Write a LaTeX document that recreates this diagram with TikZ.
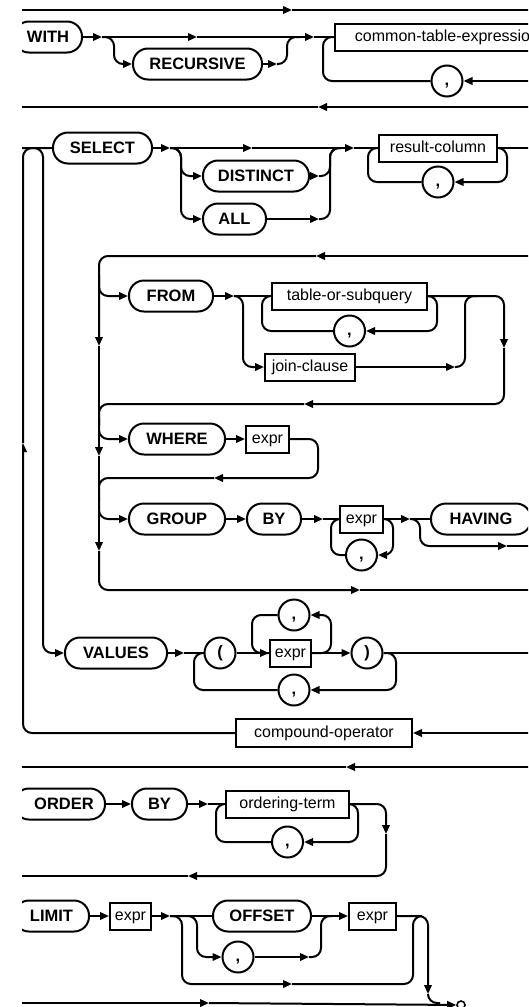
\documentclass[tikz,border=0pt]{standalone}
\usepackage{fontspec}
\setmainfont{Liberation Sans}
\usetikzlibrary{arrows.meta}
\tikzset{
  ln/.style={line width=2pt, rounded corners=9pt},
  rc/.style={rounded corners=9pt},
  ar/.style={line width=2pt, -{Triangle[length=9pt,width=7.5pt]}},
  term/.style={draw, line width=2pt, rounded corners=15pt, minimum height=31pt, inner sep=0pt, font=\fontsize{16.5}{18}\selectfont\bfseries},
  nterm/.style={draw, line width=2pt, minimum height=27pt, inner sep=0pt, text height=12pt, text depth=2.7pt, font=\fontsize{16}{18}\selectfont},
  punct/.style={draw, circle, line width=2pt, minimum size=31pt, inner sep=0pt, text height=12pt, text depth=3.5pt, font=\fontsize{16.5}{18}\selectfont\bfseries},
  endc/.style={draw, circle, line width=1.6pt, minimum size=8pt, inner sep=0pt}
}
\begin{document}
\begin{tikzpicture}[x=1pt,y=-1pt]
\useasboundingbox (0,0) rectangle (528,1007);
\clip (22,0) rectangle (528,1007);

% ---------------- nodes ----------------
\node[term, minimum width=68pt] (with) at (48,37) {WITH};
\node[term, minimum width=129pt] (recursive) at (197.5,64) {RECURSIVE};
\node[nterm, minimum width=224pt] (cte) at (447,37) {common-table-expression};
\node[punct] (c1) at (447,81) {,};

\node[term, minimum width=99pt] (select) at (102.5,148) {SELECT};
\node[term, minimum width=106pt] (distinct) at (256,176) {DISTINCT};
\node[term, minimum width=63pt] (all) at (234.5,219) {ALL};
\node[nterm, minimum width=118pt] (rescol) at (438,148) {result-column};
\node[punct] (c2) at (438,182) {,};

\node[term, minimum width=84pt] (from) at (171,296) {FROM};
\node[nterm, minimum width=155pt] (tos) at (349.5,296) {table-or-subquery};
\node[punct] (c3) at (349.5,331) {,};
\node[nterm, minimum width=90pt] (join) at (310,367) {join-clause};

\node[term, minimum width=96pt] (where) at (177,439) {WHERE};
\node[nterm, minimum width=43pt] (wexpr) at (267.5,439) {expr};

\node[term, minimum width=96pt] (group) at (177,519) {GROUP};
\node[term, minimum width=54pt] (by1) at (274,519) {BY};
\node[nterm, minimum width=43pt] (gexpr) at (361.5,519) {expr};
\node[punct] (c4) at (361.5,555) {,};
\node[term, minimum width=100pt] (having) at (481,519) {HAVING};

\node[term, minimum width=102pt] (values) at (116,653) {VALUES};
\node[punct] (lp) at (220,653) {(};
\node[nterm, minimum width=41pt] (vexpr) at (290.5,653) {expr};
\node[punct] (c5) at (294,615) {,};
\node[punct] (rp) at (367,653) {)};
\node[punct] (c6) at (294,690) {,};

\node[nterm, minimum width=176pt, minimum height=28pt] (compound) at (324,733) {compound-operator};

\node[term, minimum width=91pt] (order) at (59.5,804) {\hspace*{9pt}ORDER};
\node[term, minimum width=55pt] (by2) at (159.5,804) {BY};
\node[nterm, minimum width=123pt] (ot) at (287.5,804) {ordering-term};
\node[punct] (c7) at (287.5,842) {,};

\node[term, minimum width=75pt] (limit) at (51.5,916) {LIMIT};
\node[nterm, minimum width=41pt] (lexpr1) at (130.5,916) {expr};
\node[term, minimum width=98pt] (offset) at (262,916) {OFFSET};
\node[punct] (c8) at (238,957) {,};
\node[nterm, minimum width=47pt] (lexpr2) at (372.5,916) {expr};
\node[endc] (end) at (461,1005) {};

% ---------------- top line ----------------
\coordinate (a0) at (10,10); \coordinate (a1) at (292,10); \coordinate (a2) at (540,10);
\draw[ar] (a0) -- (a1); \draw[ln] (a1) -- (a2);

% ---------------- WITH ----------------
\coordinate (w1) at (102,37);
\coordinate (w2) at (197,37);
\coordinate (w4) at (277,64);
\coordinate (w5) at (314,37);
\coordinate (w6) at (540,81);
\draw[ar] (with) -- (w1);
\draw[ar] (w1) -- (w2);
\draw[ar] (w2) -- (w5);
\draw[ar] (w1) [rc] -- (114,37) -- (114,64) -- (recursive) [sharp corners];
\draw[ar] (recursive) -- (w4);
\draw[ln] (w4) -- (287,64) -- (287,37) -- (300,37);
\draw[ln] (w5) -- (cte);
\draw[ln] (c1) -- (323,81) -- (323,37) -- (cte);
\draw[ar] (w6) -- (c1);

\coordinate (b0) at (540,107); \coordinate (b1) at (318,107); \coordinate (b2) at (10,107);
\draw[ar] (b0) -- (b1); \draw[ln] (b1) -- (b2);

% ---------------- SELECT ----------------
\coordinate (s0) at (10,148);
\coordinate (s1) at (170,148);
\coordinate (s2) at (252,148);
\coordinate (s3) at (341,148);
\coordinate (s4) at (319,176);
\coordinate (s5) at (319,219);
\coordinate (s6) at (354,148);
\coordinate (s7) at (540,148);
\draw[ln] (s0) -- (select);
\draw[ar] (select) -- (s1);
\draw[ar] (s1) -- (s2);
\draw[ln] (s2) -- (s3);
\draw[ar] (s1) [rc] -- (181,148) -- (181,176) -- (distinct) [sharp corners];
\draw[ar] (s1) [rc] -- (181,148) -- (181,219) -- (all) [sharp corners];
\draw[ar] (distinct) -- (s4);
\draw[ar] (all) -- (s5);
\draw[ln] (s4) -- (330,176) -- (330,148) -- (s3);
\draw[ln] (s5) -- (330,219) -- (330,148) -- (s3);
\draw[ar] (s3) -- (s6);
\draw[ln] (s6) -- (rescol);
\draw[ln] (c2) -- (368,182) -- (368,148) -- (rescol);
\draw[ln] (rescol) -- (s7);
\draw[ar] (rescol.east) [rc] -- (507,148) -- (507,182) -- (c2) [sharp corners];

% compound loop and VALUES branch
\coordinate (k0) at (23,443);
\coordinate (k1) at (540,733);
\draw[ar] (k1) -- (compound);
\draw[ar] (compound) [rc] -- (23,733) -- (k0) [sharp corners];
\draw[ln] (k0) -- (23,148) -- (select);
\draw[ar] (s0) [rc] -- (43,148) -- (43,653) -- (values) [sharp corners];

% ---------------- FROM / WHERE / GROUP ----------------
\coordinate (f0) at (540,256); \coordinate (f1) at (316,256);
\coordinate (v1) at (99,346); \coordinate (v2) at (99,456);
\coordinate (v3) at (99,551); \coordinate (v4) at (360,590);
\coordinate (v5) at (540,590);
\draw[ar] (f0) -- (f1);
\draw[ar] (f1) [rc] -- (99,256) -- (v1) [sharp corners];
\draw[ar] (v1) -- (v2);
\draw[ar] (v2) -- (v3);
\draw[ar] (v3) [rc] -- (99,590) -- (v4) [sharp corners];
\draw[ln] (v4) -- (v5);

\coordinate (fb) at (99,275);
\coordinate (fj) at (234,296);
\coordinate (jx) at (455,367);
\coordinate (r1) at (504,348);
\coordinate (r2) at (304,404);
\draw[ar] (fb) [rc] -- (99,296) -- (from) [sharp corners];
\draw[ar] (from) -- (fj);
\draw[ln] (fj) -- (tos);
\draw[ar] (fj) [rc] -- (243,296) -- (243,367) -- (join) [sharp corners];
\draw[ln] (c3) -- (262,331) -- (262,296) -- (tos);
\draw[ar] (tos.east) [rc] -- (437,296) -- (437,331) -- (c3) [sharp corners];
\draw[ar] (join) -- (jx);
\draw[ln] (jx) -- (465,367) -- (465,296) -- (478,296);
\draw[ar] (tos.east) [rc] -- (504,296) -- (r1) [sharp corners];
\draw[ar] (r1) [rc] -- (504,404) -- (r2) [sharp corners];
\draw[ln] (r2) -- (99,404) -- (99,425);

\coordinate (wb) at (99,418);
\coordinate (wx) at (214,478);
\draw[ar] (wb) [rc] -- (99,439) -- (where) [sharp corners];
\draw[ar] (where) -- (wexpr);
\draw[ar] (wexpr) [rc] -- (318,439) -- (318,478) -- (wx) [sharp corners];
\draw[ln] (wx) -- (99,478) -- (99,500);

\coordinate (gb) at (99,498);
\coordinate (gj) at (323,519);
\coordinate (hj) at (410,519);
\coordinate (hx) at (507,546);
\coordinate (hy) at (540,546);
\draw[ar] (gb) [rc] -- (99,519) -- (group) [sharp corners];
\draw[ar] (group) -- (by1);
\draw[ar] (by1) -- (gj);
\draw[ln] (gj) -- (gexpr);
\draw[ln] (c4) -- (331,555) -- (331,519) -- (gexpr);
\draw[ar] (gexpr.east) [rc] -- (393,519) -- (393,555) -- (c4) [sharp corners];
\draw[ar] (gexpr) -- (hj);
\draw[ln] (hj) -- (having);
\draw[ar] (hj) [rc] -- (420,519) -- (420,546) -- (hx) [sharp corners];
\draw[ln] (hx) -- (hy);

% ---------------- VALUES ----------------
\coordinate (vj) at (184,653);
\coordinate (vz) at (540,653);
\draw[ar] (values) -- (vj);
\draw[ln] (vj) -- (lp);
\draw[ln] (c6) -- (194,690) -- (194,653) -- (lp);
\draw[ar] (lp) -- (vexpr);
\draw[ln] (c5) -- (252,615) -- (252,653) -- (vexpr);
\draw[ar] (vexpr.east) [rc] -- (331,653) -- (331,615) -- (c5) [sharp corners];
\draw[ar] (vexpr) -- (rp);
\draw[ar] (rp.east) [rc] -- (396,653) -- (396,690) -- (c6) [sharp corners];
\draw[ln] (rp) -- (vz);

% line 767
\coordinate (m0) at (540,767); \coordinate (m1) at (346,767); \coordinate (m2) at (10,767);
\draw[ar] (m0) -- (m1); \draw[ln] (m1) -- (m2);

% ---------------- ORDER BY ----------------
\coordinate (oj) at (208,804);
\coordinate (o1) at (386,834);
\coordinate (o2) at (188,876);
\coordinate (o3) at (10,876);
\draw[ar] (order) -- (by2);
\draw[ar] (by2) -- (oj);
\draw[ln] (oj) -- (ot);
\draw[ln] (c7) -- (216,842) -- (216,804) -- (ot);
\draw[ar] (ot.east) [rc] -- (358,804) -- (358,842) -- (c7) [sharp corners];
\draw[ar] (ot) [rc] -- (386,804) -- (o1) [sharp corners];
\draw[ar] (o1) [rc] -- (386,876) -- (o2) [sharp corners];
\draw[ln] (o2) -- (o3);

% ---------------- LIMIT ----------------
\coordinate (lj) at (170,916);
\coordinate (lo) at (292,984);
\coordinate (ca) at (309,957);
\coordinate (oj2) at (332,916);
\coordinate (ld) at (428,994);
\coordinate (e0) at (10,1003);
\coordinate (e1) at (209,1003);
\draw[ar] (limit) -- (lexpr1);
\draw[ar] (lexpr1) -- (lj);
\draw[ln] (lj) -- (offset);
\draw[ar] (lj) [rc] -- (197,916) -- (197,957) -- (c8) [sharp corners];
\draw[ar] (lj) [rc] -- (182,916) -- (182,984) -- (lo) [sharp corners];
\draw[ln] (lo) -- (413,984) -- (413,916) -- (422,916);
\draw[ar] (c8) -- (ca);
\draw[ln] (ca) -- (321,957) -- (321,916) -- (oj2);
\draw[ln] (offset) -- (oj2);
\draw[ar] (oj2) -- (lexpr2);
\draw[ar] (lexpr2) [rc] -- (428,916) -- (ld) [sharp corners];
\draw[ln] (ld) -- (428,1003) -- (440,1003);
\draw[ar] (e0) -- (e1);
\draw[ar] (e1) -- (end);
\end{tikzpicture}
\end{document}
